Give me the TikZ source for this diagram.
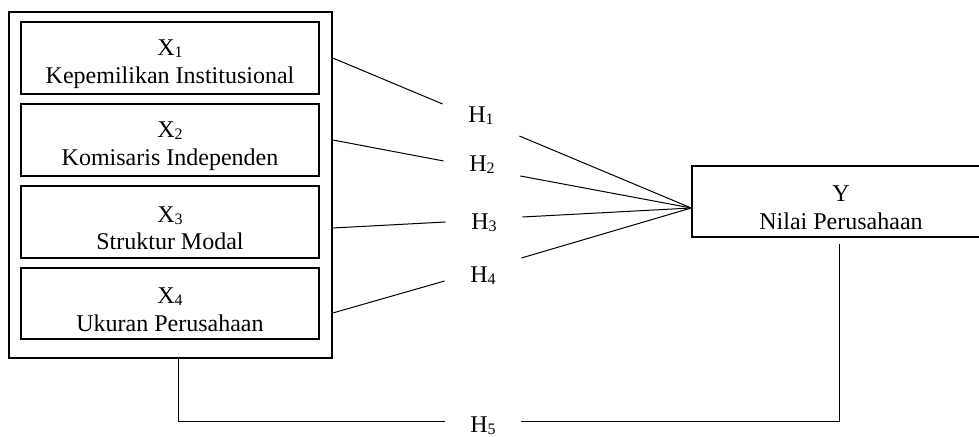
\documentclass[tikz,border=0pt]{standalone}
\usepackage{fontspec}
\setmainfont{Liberation Serif}
\usepackage{tikz}
\usetikzlibrary{calc}

\newcommand{\subidx}[1]{\raisebox{-1pt}{\fontsize{8}{8}\selectfont#1}}
\newcommand{\tstrut}{\rule{0pt}{14pt}}

\tikzset{
  varbox/.style={draw,line width=0.75pt,minimum width=149pt,minimum height=36pt,
    inner sep=0pt,align=center,font=\fontsize{12}{13.8}\selectfont},
  hyplabel/.style={anchor=base,minimum width=38pt,inner sep=0pt,
    font=\fontsize{12}{13.8}\selectfont},
  link/.style={line width=0.5pt}
}

\begin{document}
\begin{tikzpicture}[x=0.5pt,y=-0.5pt]
  \useasboundingbox (0,0) rectangle (979,437);
  % independent variables
  \node[draw,line width=0.75pt,minimum width=161.5pt,minimum height=173pt] (grp) at (170.5,185) {};
  \node[varbox] (x1) at (170,58) {\tstrut X\subidx{1}\\Kepemilikan Institusional};
  \node[varbox] (x2) at (170,140) {\tstrut X\subidx{2}\\Komisaris Independen};
  \node[varbox] (x3) at (170,222) {\tstrut X\subidx{3}\\Struktur Modal};
  \node[varbox,minimum height=35.5pt] (x4) at (170,303.5) {\tstrut X\subidx{4}\\Ukuran Perusahaan};
  % dependent variable
  \node[varbox,minimum height=35.5pt] (y) at (841,201.5) {\tstrut Y\\Nilai Perusahaan};
  % hypotheses
  \node[hyplabel] (h1) at (481,123) {H\subidx{1}};
  \node[hyplabel] (h2) at (482,172) {H\subidx{2}};
  \node[hyplabel] (h3) at (484,230) {H\subidx{3}};
  \node[hyplabel] (h4) at (483,283) {H\subidx{4}};
  \node[hyplabel] (h5) at (483,433) {H\subidx{5}};
  % paths
  \draw[link] (grp.east |- x1) -- ([yshift=9.5pt]h1.base west);
  \draw[link] (grp.east |- x2) -- ([yshift=5.5pt]h2.base west);
  \draw[link] ($(grp.east |- x3)+(0,6)$) -- ([yshift=4pt]h3.base west);
  \draw[link] ($(grp.east |- x4)+(0,9.5)$) -- ([yshift=1pt]h4.base west);
  \draw[link] ([yshift=-6.5pt]h1.base east) -- ([yshift=-3.25pt]y.west);
  \draw[link] ([yshift=-2pt]h2.base east) -- ([yshift=-3.25pt]y.west);
  \draw[link] ([yshift=6.5pt]h3.base east) -- ([yshift=-3.25pt]y.west);
  \draw[link] ([yshift=12.5pt]h4.base east) -- ([yshift=-3.25pt]y.west);
  \draw[link] ([xshift=3.75pt]grp.south) |- ([yshift=5.5pt]h5.base west);
  \draw[link] ([yshift=5.5pt]h5.base east) -| ([xshift=-1pt,yshift=-3pt]y.south);
\end{tikzpicture}
\end{document}
